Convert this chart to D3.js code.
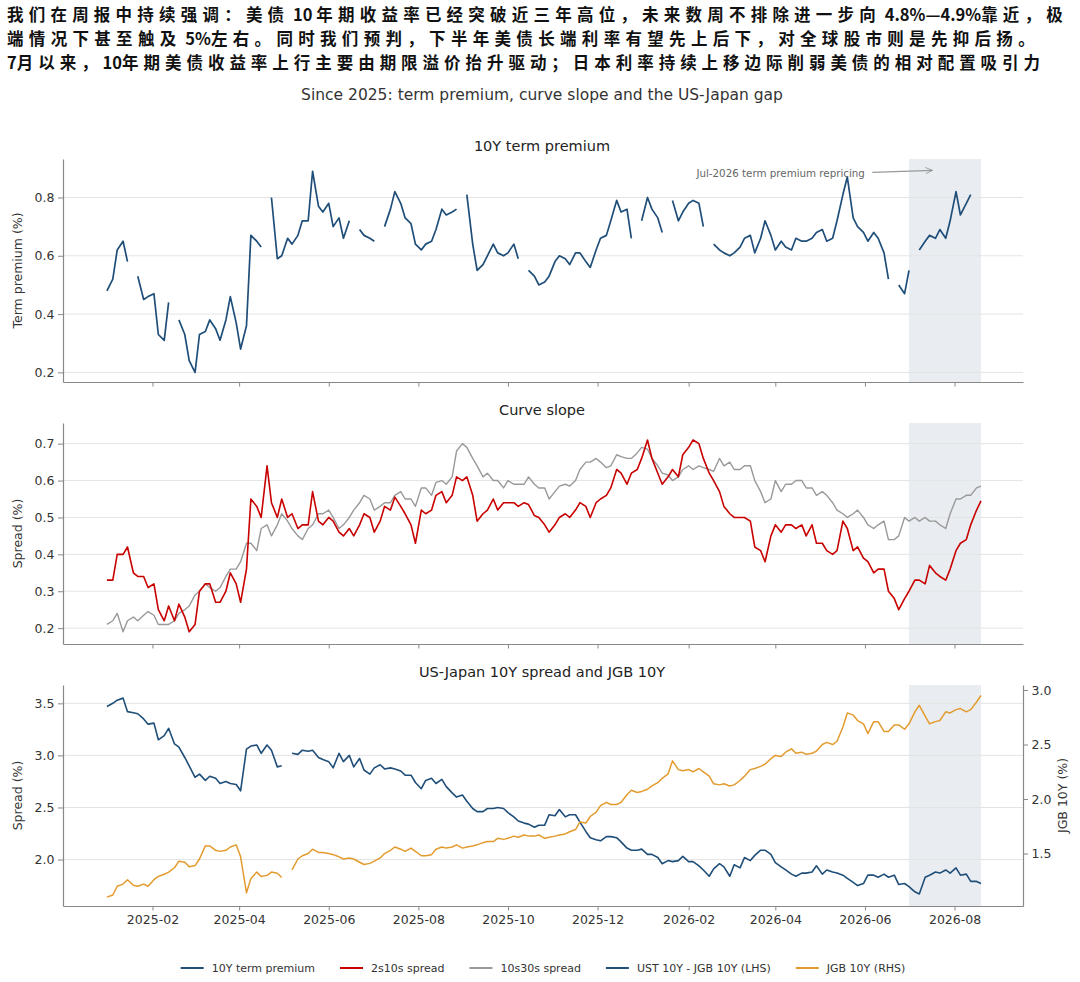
<!DOCTYPE html>
<html>
<head>
<meta charset="utf-8">
<script src="https://cdn.jsdelivr.net/npm/d3@7"></script>
<style>
  body { margin: 0; background: #fff; }
  svg { display: block; }
</style>
</head>
<body>
<div id="wrapper"></div>
<script>
// header and titles
const headerLines = [
    "我们在周报中持续强调：美债 10 年期收益率已经突破近三年高位，未来数周不排除进一步向 4.8%—4.9%靠近，极",
    "端情况下甚至触及 5%左右。同时我们预判，下半年美债长端利率有望先上后下，对全球股市则是先抑后扬。",
    "7月以来，10年期美债收益率上行主要由期限溢价抬升驱动；日本利率持续上移边际削弱美债的相对配置吸引力"
];
const chartTitle = "Since 2025: term premium, curve slope and the US-Japan gap";
const panelTitles = ["10Y term premium", "Curve slope", "US-Japan 10Y spread and JGB 10Y"];
const annotationText = "Jul-2026 term premium repricing";

// x axis ticks
const xTickLabels = ["2025-02", "2025-04", "2025-06", "2025-08", "2025-10",
                     "2025-12", "2026-02", "2026-04", "2026-06", "2026-08"];
const tp_ticks = [0.2, 0.4, 0.6, 0.8];
const slope_ticks = [0.2, 0.3, 0.4, 0.5, 0.6, 0.7];
const spread_ticks = [2.0, 2.5, 3.0, 3.5];
const jgb_ticks = [1.5, 2.0, 2.5, 3.0];

// observations every ~3.5 days from 2025-01-01 (null = missing)
const firstDate = "2025-01-01";
const stepDays = 3.5;
const shadeStart = "2026-07-01";
const shadeEnd = "2026-08-19";

const termPremium = [
    0.48, 0.52, 0.62, 0.65, 0.58, null, 0.53, 0.45, 0.46, 0.47,
    0.33, 0.31, 0.44, null, 0.38, 0.33, 0.24, 0.20, 0.33, 0.34,
    0.38, 0.35, 0.31, 0.38, 0.46, 0.37, 0.28, 0.36, 0.67, 0.65,
    0.63, null, 0.80, 0.59, 0.60, 0.66, 0.64, 0.67, 0.72, 0.72,
    0.89, 0.77, 0.75, 0.78, 0.70, 0.73, 0.66, 0.72, null, 0.69,
    0.67, 0.66, 0.65, null, 0.70, 0.76, 0.82, 0.78, 0.73, 0.71,
    0.64, 0.62, 0.64, 0.65, 0.69, 0.76, 0.74, 0.75, 0.76, null,
    0.81, 0.64, 0.55, 0.57, 0.60, 0.64, 0.61, 0.60, 0.61, 0.64,
    0.59, null, 0.55, 0.53, 0.50, 0.51, 0.53, 0.58, 0.60, 0.59,
    0.57, 0.61, 0.61, 0.58, 0.56, 0.62, 0.66, 0.67, 0.72, 0.79,
    0.75, 0.76, 0.66, null, 0.72, 0.80, 0.76, 0.73, 0.68, null,
    0.79, 0.72, 0.75, 0.78, 0.79, 0.78, 0.70, null, 0.64, 0.62,
    0.61, 0.60, 0.61, 0.63, 0.66, 0.67, 0.61, 0.66, 0.72, 0.67,
    0.62, 0.65, 0.63, 0.62, 0.66, 0.65, 0.65, 0.66, 0.68, 0.69,
    0.65, 0.66, 0.72, 0.81, 0.87, 0.73, 0.70, 0.68, 0.65, 0.68,
    0.66, 0.61, 0.52, null, 0.50, 0.47, 0.55, null, 0.62, 0.65,
    0.67, 0.66, 0.69, 0.66, 0.72, 0.82, 0.74, 0.78, 0.81, null, null
];

const spread2s10s = [
    0.33, 0.33, 0.40, 0.40, 0.42, 0.35, 0.34, 0.34, 0.31, 0.32,
    0.25, 0.22, 0.26, 0.22, 0.265, 0.23, 0.19, 0.21, 0.30, 0.32,
    0.32, 0.27, 0.27, 0.30, 0.35, 0.32, 0.27, 0.36, 0.55, 0.53,
    0.50, 0.64, 0.54, 0.50, 0.55, 0.50, 0.51, 0.47, 0.48, 0.48,
    0.57, 0.49, 0.48, 0.50, 0.49, 0.46, 0.45, 0.47, 0.45, 0.48,
    0.51, 0.50, 0.46, 0.49, 0.53, 0.52, 0.555, 0.53, 0.51, 0.48,
    0.43, 0.52, 0.51, 0.52, 0.56, 0.57, 0.54, 0.56, 0.61, 0.60,
    0.61, 0.56, 0.49, 0.51, 0.52, 0.55, 0.52, 0.54, 0.54, 0.54,
    0.53, 0.54, 0.535, 0.505, 0.50, 0.48, 0.46, 0.48, 0.50, 0.51,
    0.50, 0.52, 0.54, 0.53, 0.50, 0.54, 0.55, 0.56, 0.58, 0.63,
    0.62, 0.59, 0.62, 0.63, 0.66, 0.71, 0.66, 0.62, 0.59, 0.61,
    0.63, 0.61, 0.67, 0.69, 0.71, 0.70, 0.66, 0.62, 0.60, 0.57,
    0.53, 0.51, 0.50, 0.50, 0.50, 0.49, 0.42, 0.41, 0.38, 0.45,
    0.48, 0.46, 0.48, 0.48, 0.47, 0.48, 0.45, 0.48, 0.43, 0.43,
    0.41, 0.40, 0.41, 0.49, 0.47, 0.41, 0.42, 0.39, 0.38, 0.35,
    0.36, 0.36, 0.30, 0.28, 0.25, 0.28, 0.30, 0.33, 0.33, 0.32,
    0.37, 0.35, 0.34, 0.33, 0.36, 0.41, 0.43, 0.44, 0.48, 0.52, 0.545
];

const spread10s30s = [
    0.21, 0.22, 0.24, 0.19, 0.22, 0.23, 0.22, 0.235, 0.245, 0.235,
    0.21, 0.21, 0.21, 0.22, 0.24, 0.25, 0.26, 0.29, 0.30, 0.32,
    0.31, 0.30, 0.31, 0.34, 0.36, 0.36, 0.38, 0.43, 0.43, 0.41,
    0.47, 0.48, 0.45, 0.48, 0.51, 0.49, 0.47, 0.45, 0.44, 0.47,
    0.48, 0.51, 0.51, 0.52, 0.50, 0.47, 0.48, 0.50, 0.52, 0.54,
    0.56, 0.55, 0.52, 0.53, 0.54, 0.54, 0.56, 0.57, 0.55, 0.55,
    0.53, 0.58, 0.58, 0.56, 0.595, 0.60, 0.59, 0.61, 0.68, 0.70,
    0.69, 0.66, 0.64, 0.61, 0.62, 0.60, 0.60, 0.58, 0.60, 0.59,
    0.59, 0.59, 0.61, 0.59, 0.58, 0.58, 0.55, 0.57, 0.585, 0.59,
    0.585, 0.60, 0.63, 0.65, 0.65, 0.66, 0.65, 0.635, 0.64, 0.67,
    0.665, 0.66, 0.66, 0.675, 0.69, 0.685, 0.66, 0.64, 0.62, 0.615,
    0.60, 0.61, 0.63, 0.64, 0.63, 0.64, 0.635, 0.63, 0.625, 0.66,
    0.64, 0.65, 0.63, 0.63, 0.64, 0.64, 0.60, 0.57, 0.54, 0.55,
    0.60, 0.57, 0.59, 0.59, 0.60, 0.60, 0.58, 0.58, 0.56, 0.57,
    0.56, 0.54, 0.52, 0.51, 0.50, 0.51, 0.52, 0.50, 0.48, 0.47,
    0.48, 0.49, 0.44, 0.44, 0.45, 0.50, 0.49, 0.50, 0.49, 0.50,
    0.49, 0.49, 0.48, 0.47, 0.51, 0.55, 0.55, 0.56, 0.56, 0.58, 0.585
];

const ustJgbSpread = [
    3.47, 3.50, 3.53, 3.55, 3.42, 3.41, 3.40, 3.35, 3.30, 3.31,
    3.15, 3.19, 3.26, 3.11, 3.08, 2.98, 2.90, 2.79, 2.82, 2.76,
    2.80, 2.78, 2.73, 2.75, 2.73, 2.72, 2.66, 3.06, 3.09, 3.10,
    3.02, 3.10, 3.05, 2.89, 2.90, null, 3.02, 3.01, 3.05, 3.04,
    3.05, 2.98, 2.96, 2.94, 2.88, 3.02, 2.94, 3.00, 2.89, 2.97,
    2.86, 2.82, 2.88, 2.91, 2.87, 2.88, 2.87, 2.85, 2.81, 2.81,
    2.74, 2.68, 2.76, 2.78, 2.73, 2.77, 2.70, 2.64, 2.60, 2.62,
    2.56, 2.49, 2.46, 2.46, 2.49, 2.49, 2.50, 2.49, 2.45, 2.41,
    2.37, 2.35, 2.34, 2.31, 2.33, 2.33, 2.43, 2.42, 2.48, 2.41,
    2.43, 2.43, 2.36, 2.27, 2.21, 2.19, 2.18, 2.22, 2.22, 2.21,
    2.17, 2.11, 2.09, 2.09, 2.10, 2.05, 2.05, 2.02, 1.96, 1.99,
    1.98, 1.99, 2.03, 1.98, 1.98, 1.94, 1.90, 1.84, 1.91, 1.96,
    1.93, 1.84, 1.95, 1.92, 2.02, 1.99, 2.04, 2.09, 2.09, 2.05,
    1.97, 1.93, 1.90, 1.86, 1.84, 1.87, 1.87, 1.88, 1.94, 1.86,
    1.90, 1.88, 1.87, 1.85, 1.82, 1.78, 1.75, 1.77, 1.85, 1.85,
    1.83, 1.86, 1.83, 1.85, 1.76, 1.77, 1.74, 1.69, 1.67, 1.83,
    1.85, 1.88, 1.87, 1.90, 1.87, 1.92, 1.85, 1.86, 1.79, 1.79, 1.77
];

const jgb10y = [
    1.10, 1.12, 1.20, 1.22, 1.26, 1.21, 1.20, 1.22, 1.20, 1.26,
    1.29, 1.31, 1.33, 1.37, 1.43, 1.42, 1.38, 1.39, 1.45, 1.57,
    1.57, 1.53, 1.52, 1.53, 1.56, 1.58, 1.47, 1.14, 1.27, 1.33,
    1.29, 1.30, 1.33, 1.32, 1.28, null, 1.35, 1.45, 1.48, 1.50,
    1.54, 1.51, 1.51, 1.50, 1.49, 1.47, 1.45, 1.46, 1.45, 1.42,
    1.40, 1.41, 1.43, 1.46, 1.50, 1.53, 1.56, 1.54, 1.52, 1.55,
    1.52, 1.48, 1.48, 1.49, 1.54, 1.56, 1.55, 1.56, 1.58, 1.55,
    1.56, 1.57, 1.58, 1.60, 1.61, 1.61, 1.64, 1.63, 1.64, 1.66,
    1.65, 1.67, 1.66, 1.66, 1.67, 1.64, 1.65, 1.66, 1.67, 1.68,
    1.70, 1.72, 1.79, 1.78, 1.84, 1.88, 1.94, 1.97, 1.95, 1.95,
    1.97, 2.04, 2.08, 2.06, 2.07, 2.09, 2.12, 2.15, 2.19, 2.23,
    2.35, 2.27, 2.26, 2.27, 2.25, 2.28, 2.25, 2.21, 2.14, 2.13,
    2.14, 2.12, 2.13, 2.17, 2.21, 2.27, 2.28, 2.30, 2.32, 2.37,
    2.40, 2.39, 2.43, 2.46, 2.42, 2.43, 2.41, 2.42, 2.44, 2.50,
    2.52, 2.50, 2.53, 2.66, 2.79, 2.77, 2.72, 2.69, 2.60, 2.71,
    2.71, 2.62, 2.62, 2.68, 2.68, 2.64, 2.69, 2.80, 2.86, 2.76,
    2.69, 2.71, 2.72, 2.80, 2.79, 2.82, 2.83, 2.80, 2.82, 2.89, 2.95
];

const legendLabels = ["10Y term premium", "2s10s spread", "10s30s spread",
                      "UST 10Y - JGB 10Y (LHS)", "JGB 10Y (RHS)"];

function buildPlot() {
    const colors = {
        tp: "#1f4e79",
        s2s10: "#c80000",
        s10s30: "#999999",
        spread: "#1f4e79",
        jgb: "#e39b2e"
    };
    const axisColor = "#888";
    const textColor = "#333";
    const font = "DejaVu Sans, Liberation Sans, sans-serif";

    const width = 1080, height = 982;
    const left = 63, right = 1023;

    const parseDay = d3.timeParse("%Y-%m-%d");
    const parseMonth = d3.timeParse("%Y-%m");
    const start = parseDay(firstDate);
    const dates = termPremium.map((d, i) => d3.timeDay.offset(start, Math.round(i * stepDays)));

    const svg = d3.select("#wrapper").append("svg")
        .attr("width", width)
        .attr("height", height)
        .style("background", "#fff");

    // chinese header: only the CJK runs get extra tracking, latin stays tight
    const headerWidths = [1061, 1033, 1038];
    const cjkRe = /[\u3000-\u9fff\uff00-\uffef]+|[^\u3000-\u9fff\uff00-\uffef]+/g;
    const isCjk = s => /[\u3000-\u9fff\uff00-\uffef]/.test(s);
    headerLines.forEach((line, i) => {
        const t = svg.append("text")
            .attr("x", 7)
            .attr("y", 20.5 + i * 24.3)
            .style("font-family", "'Noto Sans CJK SC', sans-serif")
            .style("font-weight", "700")
            .style("font-size", "16.5px")
            .style("fill", "#111");
        const runs = line.match(cjkRe);
        runs.forEach(r => {
            t.append("tspan").attr("class", isCjk(r) ? "cjk" : "lat").text(r.replace(/ /g, "\u00a0"));
        });
        const natural = t.node().getComputedTextLength();
        const nCjk = runs.filter(isCjk).join("").length;
        const spacing = Math.max(0, (headerWidths[i] - natural) / nCjk);
        t.selectAll("tspan.cjk").style("letter-spacing", spacing + "px");
    });

    svg.append("text")
        .attr("x", 542)
        .attr("y", 100)
        .attr("text-anchor", "middle")
        .style("font-family", font)
        .style("font-size", "15.5px")
        .style("fill", textColor)
        .text(chartTitle);

    // shared x scale (matplotlib style margins)
    const xScale = d3.scaleTime()
        .domain([new Date(2024, 11, 2, 2, 24), new Date(2026, 8, 16, 14, 24)])
        .range([left, right]);
    const xTicks = xTickLabels.map(parseMonth);

    const panels = [
        { top: 159, bottom: 382, domain: [0.167, 0.932], ticks: tp_ticks, label: "Term premium (%)" },
        { top: 423, bottom: 644, domain: [0.157, 0.756], ticks: slope_ticks, label: "Spread (%)" },
        { top: 685, bottom: 906, domain: [1.554, 3.676], ticks: spread_ticks, label: "Spread (%)" }
    ];

    const lineFor = (yScale, values) => d3.line()
        .defined((d, i) => values[i] !== null)
        .x((d, i) => xScale(dates[i]))
        .y((d, i) => yScale(values[i]))(values);

    const yScales = panels.map((p, k) => {
        const g = svg.append("g");
        const yScale = d3.scaleLinear().domain(p.domain).range([p.bottom, p.top]);

        // shaded window
        g.append("rect")
            .attr("x", xScale(parseDay(shadeStart)))
            .attr("y", p.top)
            .attr("width", xScale(parseDay(shadeEnd)) - xScale(parseDay(shadeStart)))
            .attr("height", p.bottom - p.top)
            .attr("fill", "#e9edf1");

        // horizontal grid
        g.selectAll("line.grid")
            .data(p.ticks)
            .join("line")
            .attr("x1", left)
            .attr("x2", right)
            .attr("y1", d => yScale(d))
            .attr("y2", d => yScale(d))
            .attr("stroke", "#e4e4e4")
            .attr("stroke-width", 1);

        g.append("text")
            .attr("x", 542)
            .attr("y", p.top - 8)
            .attr("text-anchor", "middle")
            .style("font-family", font)
            .style("font-size", "14.5px")
            .style("fill", "#222")
            .text(panelTitles[k]);

        g.append("text")
            .attr("transform", `translate(22, ${(p.top + p.bottom) / 2}) rotate(-90)`)
            .attr("text-anchor", "middle")
            .style("font-family", font)
            .style("font-size", "12.5px")
            .style("fill", textColor)
            .text(p.label);

        return yScale;
    });

    // panel 1: term premium
    svg.append("path")
        .attr("d", lineFor(yScales[0], termPremium))
        .attr("fill", "none")
        .attr("stroke", colors.tp)
        .attr("stroke-width", 1.7)
        .attr("stroke-linejoin", "round");

    // panel 2: curve slope (grey below red)
    svg.append("path")
        .attr("d", lineFor(yScales[1], spread10s30s))
        .attr("fill", "none")
        .attr("stroke", colors.s10s30)
        .attr("stroke-width", 1.4)
        .attr("stroke-linejoin", "round");
    svg.append("path")
        .attr("d", lineFor(yScales[1], spread2s10s))
        .attr("fill", "none")
        .attr("stroke", colors.s2s10)
        .attr("stroke-width", 1.6)
        .attr("stroke-linejoin", "round");

    // panel 3: spread (LHS) and JGB (RHS)
    const yJgb = d3.scaleLinear().domain([1.019, 3.046]).range([906, 685]);
    svg.append("path")
        .attr("d", lineFor(yScales[2], ustJgbSpread))
        .attr("fill", "none")
        .attr("stroke", colors.spread)
        .attr("stroke-width", 1.6)
        .attr("stroke-linejoin", "round");
    svg.append("path")
        .attr("d", lineFor(yJgb, jgb10y))
        .attr("fill", "none")
        .attr("stroke", colors.jgb)
        .attr("stroke-width", 1.5)
        .attr("stroke-linejoin", "round");

    // axes
    const styleAxis = (sel) => {
        sel.selectAll("path.domain").attr("stroke", axisColor).attr("stroke-width", 1.2);
        sel.selectAll(".tick line").attr("stroke", axisColor).attr("stroke-width", 1);
        sel.selectAll(".tick text")
            .style("font-family", font)
            .style("font-size", "12.5px")
            .style("fill", textColor);
    };

    panels.forEach((p, k) => {
        const xAxis = d3.axisBottom(xScale)
            .tickValues(xTicks)
            .tickSize(4.5)
            .tickSizeOuter(0)
            .tickPadding(5)
            .tickFormat(k === 2 ? d3.timeFormat("%Y-%m") : "");
        svg.append("g")
            .attr("transform", `translate(0, ${p.bottom})`)
            .call(xAxis)
            .call(styleAxis);

        const yAxis = d3.axisLeft(yScales[k])
            .tickValues(p.ticks)
            .tickSize(5)
            .tickSizeOuter(0)
            .tickPadding(3.5)
            .tickFormat(d3.format(".1f"));
        svg.append("g")
            .attr("transform", `translate(${left}, 0)`)
            .call(yAxis)
            .call(styleAxis);
    });

    const yRight = d3.axisRight(yJgb)
        .tickValues(jgb_ticks)
        .tickSize(5)
        .tickSizeOuter(0)
        .tickPadding(3.5)
        .tickFormat(d3.format(".1f"));
    svg.append("g")
        .attr("transform", `translate(${right}, 0)`)
        .call(yRight)
        .call(styleAxis);

    svg.append("text")
        .attr("transform", `translate(1067, ${(685 + 906) / 2}) rotate(-90)`)
        .attr("text-anchor", "middle")
        .style("font-family", font)
        .style("font-size", "12.5px")
        .style("fill", textColor)
        .text("JGB 10Y (%)");

    // annotation in panel 1
    const defs = svg.append("defs");
    defs.append("marker")
        .attr("id", "arrow")
        .attr("viewBox", "0 0 10 10")
        .attr("refX", 9)
        .attr("refY", 5)
        .attr("markerWidth", 7)
        .attr("markerHeight", 7)
        .attr("orient", "auto")
        .append("path")
        .attr("d", "M0,1 L9,5 L0,9")
        .attr("fill", "none")
        .attr("stroke", "#999")
        .attr("stroke-width", 1.2);

    const annY = yScales[0](0.893);
    svg.append("text")
        .attr("x", xScale(new Date(2026, 5, 1)))
        .attr("y", annY + 6.5)
        .attr("text-anchor", "end")
        .style("font-family", font)
        .style("font-size", "10.3px")
        .style("fill", "#666")
        .text(annotationText);
    svg.append("line")
        .attr("x1", xScale(new Date(2026, 5, 6)))
        .attr("x2", xScale(new Date(2026, 6, 17)))
        .attr("y1", annY + 2)
        .attr("y2", annY)
        .attr("stroke", "#999")
        .attr("stroke-width", 1.1)
        .attr("marker-end", "url(#arrow)");

    // legend
    const legendColors = [colors.tp, colors.s2s10, colors.s10s30, colors.spread, colors.jgb];
    const legend = svg.append("g");
    const items = legend.selectAll("g")
        .data(legendLabels)
        .join("g");
    items.append("line")
        .attr("x1", 0).attr("x2", 23)
        .attr("y1", 0).attr("y2", 0)
        .attr("stroke", (d, i) => legendColors[i])
        .attr("stroke-width", 2);
    items.append("text")
        .attr("x", 31)
        .attr("y", 4)
        .style("font-family", font)
        .style("font-size", "11px")
        .style("fill", textColor)
        .text(d => d);
    let cursor = 0;
    items.each(function () {
        const w = 31 + d3.select(this).select("text").node().getComputedTextLength();
        d3.select(this).attr("transform", `translate(${cursor}, 0)`);
        cursor += w + 25;
    });
    const legendWidth = cursor - 25;
    legend.attr("transform", `translate(${543 - legendWidth / 2}, 968)`);
}

buildPlot();
</script>
</body>
</html>
